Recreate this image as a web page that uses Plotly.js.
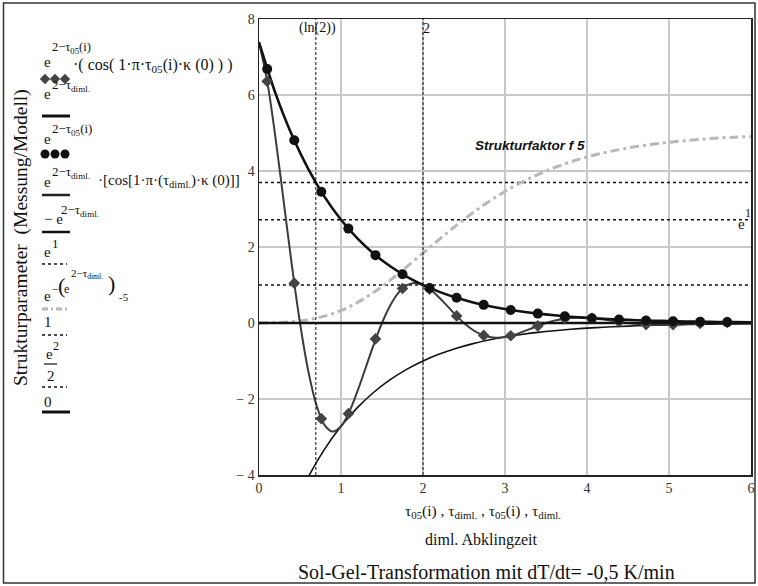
<!DOCTYPE html>
<html><head><meta charset="utf-8">
<script src="https://cdn.plot.ly/plotly-3.0.1.min.js"></script>
<style>html,body{margin:0;padding:0;background:#fff;} #chart{width:758px;height:586px;}</style>
</head><body><div id="chart"></div>
<script>
// ---- data ----
const tauFine = [0,0.1,0.2,0.3,0.4,0.5,0.6,0.7,0.8,0.9,1.0,1.1,1.2,1.3,1.4,1.5,1.6,1.7,1.8,1.9,2.0,
  2.1,2.2,2.3,2.4,2.5,2.6,2.7,2.8,2.9,3.0,3.1,3.2,3.3,3.4,3.5,3.6,3.7,3.8,3.9,4.0,
  4.1,4.2,4.3,4.4,4.5,4.6,4.7,4.8,4.9,5.0,5.1,5.2,5.3,5.4,5.5,5.6,5.7,5.8,5.9,6.0];
const dampedCos = [7.389,6.359,4.894,3.218,1.531,0,-1.253,-2.157,-2.686,-2.857,-2.718,
  -2.340,-1.801,-1.184,-0.563,0,0.461,0.794,0.988,1.051,1.000,
  0.861,0.663,0.436,0.207,0,-0.170,-0.292,-0.363,-0.387,-0.368,
  -0.317,-0.244,-0.160,-0.076,0,0.062,0.108,0.133,0.143,0.135,
  0.116,0.090,0.059,0.028,0,-0.023,-0.039,-0.049,-0.052,-0.050,
  -0.043,-0.033,-0.022,-0.010,0,0.008,0.015,0.018,0.019,0.018];
const tauCoarse = [0,0.2,0.4,0.6,0.8,1.0,1.2,1.4,1.6,1.8,2.0,2.2,2.4,2.6,2.8,3.0,
  3.2,3.4,3.6,3.8,4.0,4.2,4.4,4.6,4.8,5.0,5.2,5.4,5.6,5.8,6.0];
const decay = [7.389,6.050,4.953,4.055,3.320,2.718,2.226,1.822,1.492,1.221,1.000,0.819,0.670,
  0.549,0.449,0.368,0.301,0.247,0.202,0.165,0.135,0.111,0.091,0.074,0.061,0.050,0.041,0.033,0.027,0.022,0.018];
const negDecay = [-7.389,-6.050,-4.953,-4.055,-3.320,-2.718,-2.226,-1.822,-1.492,-1.221,-1.000,-0.819,-0.670,
  -0.549,-0.449,-0.368,-0.301,-0.247,-0.202,-0.165,-0.135,-0.111,-0.091,-0.074,-0.061,-0.050,-0.041,-0.033,-0.027,-0.022,-0.018];
const struktur = [0.003,0.012,0.035,0.087,0.181,0.330,0.540,0.808,1.125,1.475,1.839,2.204,2.558,
  2.888,3.192,3.461,3.700,3.906,4.085,4.239,4.368,4.475,4.565,4.643,4.704,4.756,4.799,4.837,4.867,4.891,4.911];
const tau05 = [0.10,0.43,0.76,1.09,1.42,1.75,2.08,2.41,2.74,3.07,3.40,3.73,4.06,4.39,4.72,5.05,5.38,5.71];
const circles05 = [6.686,4.807,3.456,2.484,1.786,1.284,0.923,0.664,0.477,0.343,0.247,0.177,0.127,0.092,0.066,0.047,0.034,0.024];
const diamonds05 = [6.359,1.048,-2.519,-2.385,-0.420,0.908,0.894,0.185,-0.327,-0.335,-0.076,0.117,0.125,0.031,-0.042,-0.046,-0.013,0.015];
const levelE1 = 2.718, levelOne = 1, levelE2half = 3.695, levelZero = 0;
const markerX = [0.693, 2];
const markerLabels = ['(ln(2))', '2'];
const xTickVals = [0,1,2,3,4,5,6];
const xTickText = ['0','1','2','3','4','5','6'];
const yTickVals = [-4,-2,0,2,4,6,8];
const yTickText = ['\u2212 4','\u2212 2','0','2','4','6','8'];

// ---- layout helpers (pixel space of a full-figure overlay axis) ----
const W = 758, H = 586;
const PL = 259, PR = 751, PT = 19, PB = 475;
const serif = 'Liberation Serif, Times New Roman, serif';
function T(x, y, text, size, extra) {
  return Object.assign({xref:'x2', yref:'y2', x:x, y:y, text:text, showarrow:false,
    xanchor:'left', yanchor:'middle', font:{family:serif, size:size, color:'#111'}}, extra || {});
}
function lineShape(x0, x1, y, color, width, dash) {
  return {type:'line', xref:'x2', yref:'y2', x0:x0, x1:x1, y0:y, y1:y, line:{color:color, width:width, dash:dash || 'solid'}};
}

const traces = [
  {x:[0,6], y:[levelE1,levelE1], mode:'lines', line:{color:'#111', width:1.5, dash:'dot'}, xaxis:'x', yaxis:'y'},
  {x:[0,6], y:[levelOne,levelOne], mode:'lines', line:{color:'#111', width:1.5, dash:'dot'}, xaxis:'x', yaxis:'y'},
  {x:[0,6], y:[levelE2half,levelE2half], mode:'lines', line:{color:'#111', width:1.5, dash:'dot'}, xaxis:'x', yaxis:'y'},
  {x:tauCoarse, y:struktur, mode:'lines', line:{color:'#b8b8b8', width:3, dash:'9px,4px,3px,4px', shape:'spline'}, xaxis:'x', yaxis:'y'},
  {x:tauCoarse, y:negDecay, mode:'lines', line:{color:'#111', width:1.6, shape:'spline'}, xaxis:'x', yaxis:'y'},
  {x:tauFine, y:dampedCos, mode:'lines', line:{color:'#3c3c3c', width:2, shape:'spline'}, xaxis:'x', yaxis:'y'},
  {x:tauCoarse, y:decay, mode:'lines', line:{color:'#111', width:2.6, shape:'spline'}, xaxis:'x', yaxis:'y'},
  {x:[0,6], y:[levelZero,levelZero], mode:'lines', line:{color:'#111', width:2.5}, xaxis:'x', yaxis:'y'},
  {x:tau05, y:diamonds05, mode:'markers', marker:{symbol:'diamond', size:9, color:'#444'}, xaxis:'x', yaxis:'y'},
  {x:tau05, y:circles05, mode:'markers', marker:{symbol:'circle', size:10, color:'#111'}, xaxis:'x', yaxis:'y'},
  // legend sample markers (pixel overlay)
  {x:[45,55,65], y:[79,79,79], mode:'markers', marker:{symbol:'diamond', size:8, color:'#444'}, xaxis:'x2', yaxis:'y2'},
  {x:[45,55,65], y:[154,154,154], mode:'markers', marker:{symbol:'circle', size:9, color:'#111'}, xaxis:'x2', yaxis:'y2'}
];

const shapes = [
  {type:'rect', xref:'x2', yref:'y2', x0:3.5, x1:755, y0:3, y1:583, line:{color:'#333', width:1.5}},
  // legend line samples
  lineShape(42, 70, 116, '#111', 3),
  lineShape(42, 70, 195, '#222', 2.5),
  lineShape(42, 70, 232, '#111', 2.5),
  lineShape(42, 67, 264, '#111', 1.5, 'dot'),
  lineShape(42, 70, 309, '#b8b8b8', 3, '6px,3px,2px,3px'),
  lineShape(42, 67, 335, '#111', 1.5, 'dot'),
  lineShape(44, 57, 364, '#111', 1.2),
  lineShape(42, 67, 387, '#111', 1.5, 'dot'),
  lineShape(42, 70, 412, '#111', 3)
];
markerX.forEach(function(mx){
  shapes.push({type:'line', xref:'x', yref:'y', x0:mx, x1:mx, y0:-4, y1:8, line:{color:'#111', width:1, dash:'3px,2px'}});
});

const annotations = [
  // legend texts
  T(42, 62, 'e', 15), T(50, 48, '2\u2212\u03c4<sub>05</sub>(i)', 12.5),
  T(71, 65, '\u00b7( cos( 1\u00b7\u03c0\u00b7\u03c4<sub>05</sub>(i)\u00b7\u03ba (0) ) )', 16),
  T(42, 94, 'e', 15), T(50, 85, '2\u2212\u03c4<sub>diml.</sub>', 13),
  T(42, 139, 'e', 15), T(50, 129, '2\u2212\u03c4<sub>05</sub>(i)', 13),
  T(42, 182, 'e', 15), T(50, 172, '2\u2212\u03c4<sub>diml.</sub>', 13),
  T(96, 181, '\u00b7[cos[1\u00b7\u03c0\u00b7(\u03c4<sub>diml.</sub>)\u00b7\u03ba (0)]]', 15),
  T(42, 219, '\u2212 e', 15), T(59, 210, '2\u2212\u03c4<sub>diml.</sub>', 13),
  T(42, 252, 'e', 15), T(50, 243, '1', 13),
  T(42, 296, 'e', 15), T(50, 289, '\u2212', 12), T(56, 285, '(', 22), T(62, 289, 'e', 12),
  T(69, 274, '2\u2212\u03c4<sub>diml.</sub>', 11), T(106, 283, ')', 22), T(117, 297, '-5', 11),
  T(42, 322, '1', 15),
  T(44, 354, 'e', 15), T(51, 346, '2', 12), T(45, 376, '2', 15),
  T(42, 402, '0', 15),
  // axis titles and captions
  T(21, 238, 'Strukturparameter  (Messung/Modell)', 19.5, {xanchor:'center', textangle:-90}),
  T(483, 511, '\u03c4<sub>05</sub>(i) , \u03c4<sub>diml.</sub> , \u03c4<sub>05</sub>(i) , \u03c4<sub>diml.</sub>', 15.5, {xanchor:'center'}),
  T(481, 540, 'diml. Abklingzeit', 16, {xanchor:'center'}),
  T(486, 572, 'Sol-Gel-Transformation mit dT/dt= -0,5 K/min', 20, {xanchor:'center'}),
  // in-plot labels
  T(317, 28, markerLabels[0], 14, {xanchor:'center'}),
  T(421, 28, markerLabels[1], 14),
  T(736, 224, 'e', 15), T(743, 213, '1', 12),
  T(473, 145, '<b><i>Strukturfaktor f 5</i></b>', 13.5, {font:{family:'Liberation Sans, Arial, sans-serif', size:13.5, color:'#111'}})
];

const layout = {
  width:W, height:H, margin:{l:0, r:0, t:0, b:0},
  paper_bgcolor:'#fff', plot_bgcolor:'rgba(0,0,0,0)', showlegend:false,
  xaxis:{domain:[PL/W, PR/W], range:[0,6], tickvals:xTickVals, ticktext:xTickText, ticks:'',
    showgrid:true, gridcolor:'#c8c8c8', gridwidth:1.5, zeroline:false, showline:true, linecolor:'#222',
    linewidth:1.5, mirror:true, anchor:'y', fixedrange:true, tickfont:{family:serif, size:14, color:'#333'}},
  yaxis:{domain:[(H-PB)/H, (H-PT)/H], range:[-4,8], tickvals:yTickVals, ticktext:yTickText, ticks:'',
    showgrid:true, gridcolor:'#c8c8c8', gridwidth:1.5, zeroline:false, showline:true, linecolor:'#222',
    linewidth:1.5, mirror:true, anchor:'x', fixedrange:true, tickfont:{family:serif, size:14, color:'#333'}},
  xaxis2:{domain:[0,1], range:[0,W], visible:false, anchor:'y2', fixedrange:true},
  yaxis2:{domain:[0,1], range:[H,0], visible:false, anchor:'x2', fixedrange:true},
  shapes:shapes, annotations:annotations
};
Plotly.newPlot('chart', traces, layout, {displayModeBar:false, staticPlot:true});
</script></body></html>
